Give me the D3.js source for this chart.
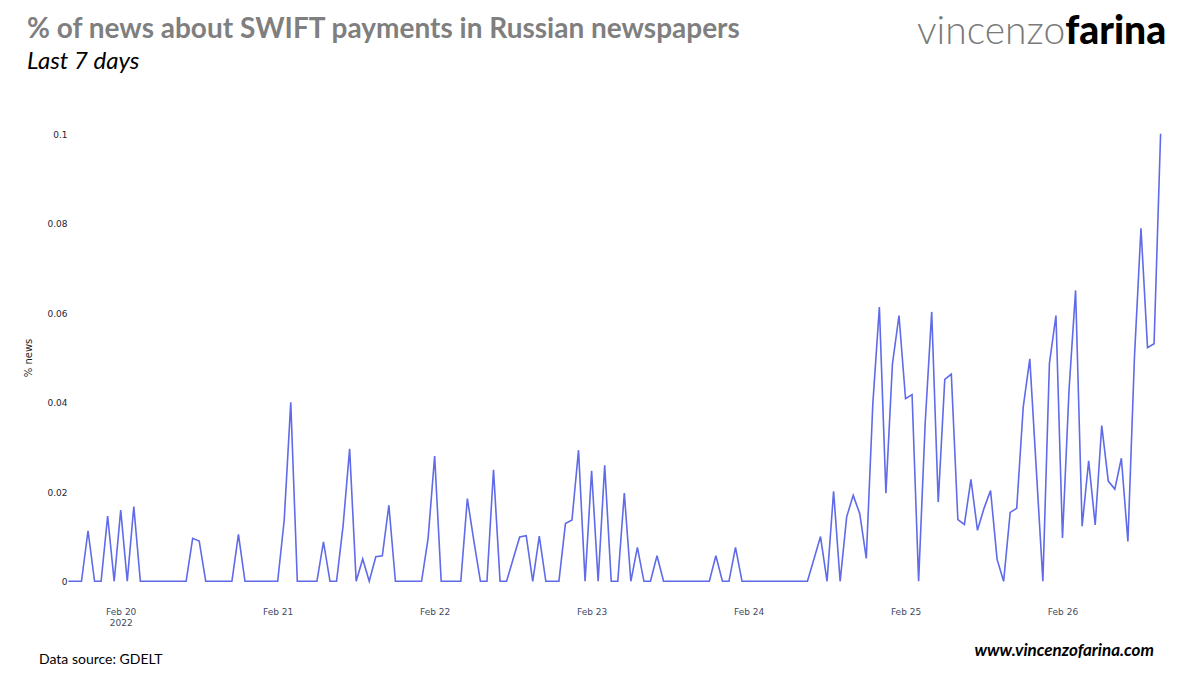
<!DOCTYPE html>
<html>
<head>
<meta charset="utf-8">
<script src="https://cdn.jsdelivr.net/npm/d3@7"></script>
<style>
html,body{margin:0;padding:0;background:#fff;}
svg{display:block;}
</style>
</head>
<body>
<svg id="chart" width="1200" height="675"></svg>
<script>
const titleText = "% of news about SWIFT payments in Russian newspapers";
const subtitleText = "Last 7 days";
const yAxisTitle = "% news";
const sourceText = "Data source: GDELT";
const siteText = "www.vincenzofarina.com";
const logoLight = "vincenzo";
const logoBold = "farina";
const startTime = "2022-02-19T16:00:00Z";
const yTicks = [0, 0.02, 0.04, 0.06, 0.08, 0.1];
const xTickDays = ["2022-02-20","2022-02-21","2022-02-22","2022-02-23","2022-02-24","2022-02-25","2022-02-26"];
// hourly share of news
const newsShare = [
 0,0,0,0.0113,0,0,0.0146,0,0.0159,0,0.0167,0,
 0,0,0,0,0,0,0,0.0096,0.0090,0,0,0,
 0,0,0.0105,0,0,0,0,0,0,0.0137,0.0400,0,
 0,0,0,0.0088,0,0,0.0124,0.0296,0,0.0050,0,0.0055,
 0.0057,0.0170,0,0,0,0,0,0.0096,0.0280,0,0,0,
 0,0.0185,0.0090,0,0,0.0249,0,0,0.0050,0.0099,0.0102,0,
 0.0101,0,0,0,0.0129,0.0137,0.0293,0,0.0247,0,0.0259,0,
 0,0.0197,0,0.0076,0,0,0.0057,0,0,0,0,0,
 0,0,0,0.0057,0,0,0.0076,0,0,0,0,0,
 0,0,0,0,0,0,0.0050,0.0100,
 0,0.0201,0,0.0144,0.0192,0.0151,0.0051,0.0397,0.0613,0.0197,0.0486,0.0594,
 0.0408,0.0417,0,0.0352,0.0602,0.0177,0.0451,0.0463,0.0138,0.0127,0.0228,0.0114,
 0.0163,0.0203,0.0049,0,0.0154,0.0163,0.0390,0.0497,0.0249,0,0.0487,0.0594,
 0.0097,0.0428,0.0650,0.0123,0.0269,0.0126,0.0348,0.0224,0.0206,0.0275,0.0089,0.0500,
 0.0789,0.0522,0.0531,0.1000
];

const svg = d3.select("#chart");
const hour = 3600000;
const t0 = new Date(startTime).getTime();
const series = newsShare.map((v, i) => ({ t: new Date(t0 + i * hour), v }));

const x = d3.scaleUtc()
  .domain(d3.extent(series, d => d.t))
  .range([68.4, 1160.6]);
const y = d3.scaleLinear().domain([0, 0.1]).range([581.3, 133.8]);

const tickFont = "DejaVu Sans, Verdana, sans-serif";
const fmtDay = d3.utcFormat("%b %d");

// y axis
const gy = svg.append("g").attr("transform", "translate(67.5,0.5)")
  .call(d3.axisLeft(y).tickValues(yTicks).tickSize(0).tickPadding(0).tickFormat(d3.format("~g")));
gy.select(".domain").remove();
gy.selectAll("text").attr("font-family", tickFont).attr("font-size", 9).attr("fill", "#1f2430");

// x axis
const dayDates = xTickDays.map(d => new Date(d + "T00:00:00Z"));
const gx = svg.append("g").attr("transform", "translate(0,609)")
  .call(d3.axisBottom(x).tickValues(dayDates).tickSize(0).tickPadding(0).tickFormat(fmtDay));
gx.select(".domain").remove();
gx.selectAll("text").attr("font-family", tickFont).attr("font-size", 9).attr("fill", "#3f4a63").attr("dy", "0.71em")
  .attr("y", 0);
gx.selectAll(".tick").filter((d, i) => i === 0).append("text")
  .attr("y", 11).attr("dy", "0.71em").attr("text-anchor", "middle")
  .attr("font-family", tickFont).attr("font-size", 9).attr("fill", "#3f4a63").text("2022");

// line
const line = d3.line().x(d => x(d.t)).y(d => y(d.v));
svg.append("path").datum(series).attr("d", line)
  .attr("fill", "none").attr("stroke", "#5f6be8").attr("stroke-width", 1.6).attr("stroke-linejoin", "miter");

// y title
svg.append("text").attr("transform", "translate(32,358) rotate(-90)")
  .attr("text-anchor", "middle").attr("font-family", tickFont).attr("font-size", 10).attr("fill", "#1c1c1c").text(yAxisTitle);

// headers
const headFont = "Lato, Carlito, sans-serif";
svg.append("text").attr("x", 27).attr("y", 37.5).attr("font-family", headFont).attr("font-weight", 700)
  .attr("font-size", 28).attr("fill", "#7f7f7f").text(titleText);
svg.append("text").attr("x", 27).attr("y", 69).attr("font-family", headFont).attr("font-style", "italic")
  .attr("font-size", 24).attr("fill", "#000").text(subtitleText);

// logo
const logo = svg.append("text").attr("x", 917).attr("y", 44).attr("font-family", "Lato, sans-serif").attr("font-size", 39);
logo.append("tspan").attr("font-weight", 300).attr("fill", "#7a7a7a").text(logoLight);
logo.append("tspan").attr("font-weight", 900).attr("fill", "#000").text(logoBold);

// footer
svg.append("text").attr("x", 39).attr("y", 664).attr("font-family", headFont).attr("font-size", 14).attr("fill", "#000").text(sourceText);
svg.append("text").attr("x", 1154).attr("y", 655.5).attr("text-anchor", "end").attr("font-family", headFont)
  .attr("font-weight", 700).attr("font-style", "italic").attr("font-size", 17).attr("fill", "#000").text(siteText);
</script>
</body>
</html>
